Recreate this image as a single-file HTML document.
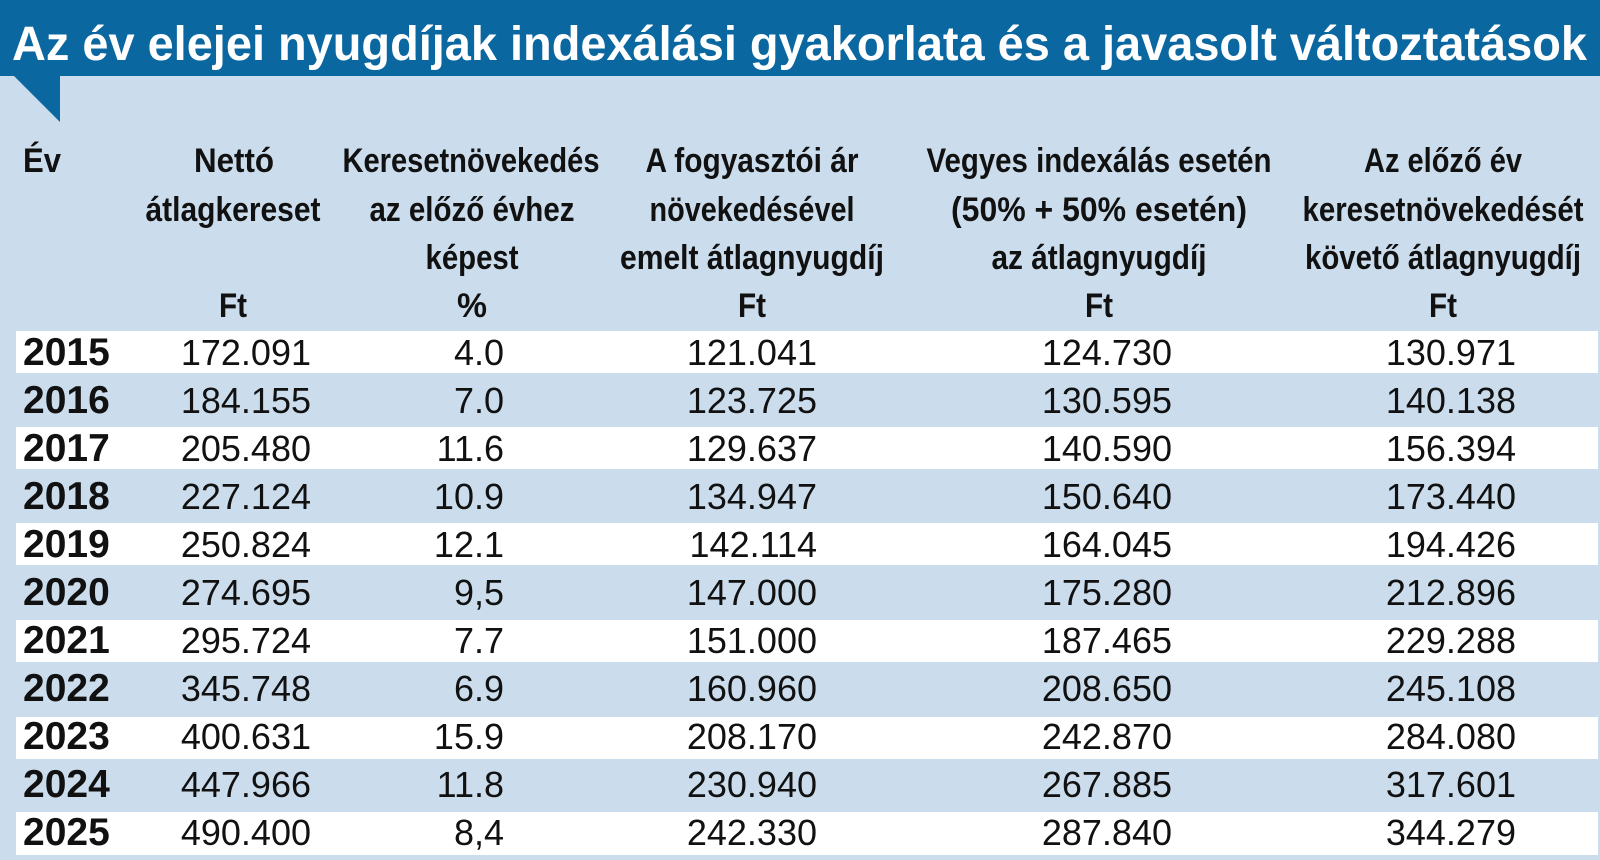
<!DOCTYPE html>
<html><head><meta charset="utf-8"><style>
html,body{margin:0;padding:0;background:#cbdcec;}
svg{display:block;}
</style></head><body>
<svg width="1600" height="860" xmlns="http://www.w3.org/2000/svg" font-family="Liberation Sans, sans-serif">
<rect width="1600" height="860" fill="#cbdcec"/>
<rect x="0" y="0" width="1600" height="76" fill="#0b67a0"/>
<polygon points="14,76 60,76 60,122" fill="#0b67a0"/>
<text x="12" y="60" font-size="48" font-weight="bold" fill="#fff" textLength="1575" lengthAdjust="spacingAndGlyphs">Az év elejei nyugdíjak indexálási gyakorlata és a javasolt változtatások</text>
<g fill="#fff">
<rect x="16" y="331" width="1582" height="42"/>
<rect x="16" y="427" width="1582" height="42"/>
<rect x="16" y="523" width="1582" height="42"/>
<rect x="16" y="620" width="1582" height="42"/>
<rect x="16" y="717" width="1582" height="42"/>
<rect x="16" y="812" width="1582" height="43"/>
</g>
<g font-size="34" font-weight="bold" fill="#111" text-anchor="middle" lengthAdjust="spacingAndGlyphs">
<text x="23" y="172" text-anchor="start" textLength="38" lengthAdjust="spacingAndGlyphs">Év</text>
<text x="234" y="172" textLength="80" lengthAdjust="spacingAndGlyphs">Nettó</text>
<text x="233" y="221" textLength="175" lengthAdjust="spacingAndGlyphs">átlagkereset</text>
<text x="233" y="317" textLength="28" lengthAdjust="spacingAndGlyphs">Ft</text>
<text x="471" y="172" textLength="257" lengthAdjust="spacingAndGlyphs">Keresetnövekedés</text>
<text x="472" y="221" textLength="205" lengthAdjust="spacingAndGlyphs">az előző évhez</text>
<text x="472" y="269" textLength="93" lengthAdjust="spacingAndGlyphs">képest</text>
<text x="472" y="317" textLength="30" lengthAdjust="spacingAndGlyphs">%</text>
<text x="752" y="172" textLength="213" lengthAdjust="spacingAndGlyphs">A fogyasztói ár</text>
<text x="752" y="221" textLength="205" lengthAdjust="spacingAndGlyphs">növekedésével</text>
<text x="752" y="269" textLength="264" lengthAdjust="spacingAndGlyphs">emelt átlagnyugdíj</text>
<text x="752" y="317" textLength="28" lengthAdjust="spacingAndGlyphs">Ft</text>
<text x="1099" y="172" textLength="345" lengthAdjust="spacingAndGlyphs">Vegyes indexálás esetén</text>
<text x="1099" y="221" textLength="296" lengthAdjust="spacingAndGlyphs">(50% + 50% esetén)</text>
<text x="1099" y="269" textLength="215" lengthAdjust="spacingAndGlyphs">az átlagnyugdíj</text>
<text x="1099" y="317" textLength="28" lengthAdjust="spacingAndGlyphs">Ft</text>
<text x="1443" y="172" textLength="158" lengthAdjust="spacingAndGlyphs">Az előző év</text>
<text x="1443" y="221" textLength="281" lengthAdjust="spacingAndGlyphs">keresetnövekedését</text>
<text x="1443" y="269" textLength="276" lengthAdjust="spacingAndGlyphs">követő átlagnyugdíj</text>
<text x="1443" y="317" textLength="28" lengthAdjust="spacingAndGlyphs">Ft</text>
</g>
<g font-size="36" fill="#111">
<g font-weight="bold" font-size="39">
<text x="23" y="365">2015</text><text x="23" y="413">2016</text><text x="23" y="461">2017</text><text x="23" y="509">2018</text><text x="23" y="557">2019</text><text x="23" y="605">2020</text><text x="23" y="653">2021</text><text x="23" y="701">2022</text><text x="23" y="749">2023</text><text x="23" y="797">2024</text><text x="23" y="845">2025</text>
</g>
<g text-anchor="end">
<text x="311" y="365">172.091</text><text x="311" y="413">184.155</text><text x="311" y="461">205.480</text><text x="311" y="509">227.124</text><text x="311" y="557">250.824</text><text x="311" y="605">274.695</text><text x="311" y="653">295.724</text><text x="311" y="701">345.748</text><text x="311" y="749">400.631</text><text x="311" y="797">447.966</text><text x="311" y="845">490.400</text>
<text x="504" y="365">4.0</text><text x="504" y="413">7.0</text><text x="504" y="461">11.6</text><text x="504" y="509">10.9</text><text x="504" y="557">12.1</text><text x="504" y="605">9,5</text><text x="504" y="653">7.7</text><text x="504" y="701">6.9</text><text x="504" y="749">15.9</text><text x="504" y="797">11.8</text><text x="504" y="845">8,4</text>
<text x="817" y="365">121.041</text><text x="817" y="413">123.725</text><text x="817" y="461">129.637</text><text x="817" y="509">134.947</text><text x="817" y="557">142.114</text><text x="817" y="605">147.000</text><text x="817" y="653">151.000</text><text x="817" y="701">160.960</text><text x="817" y="749">208.170</text><text x="817" y="797">230.940</text><text x="817" y="845">242.330</text>
<text x="1172" y="365">124.730</text><text x="1172" y="413">130.595</text><text x="1172" y="461">140.590</text><text x="1172" y="509">150.640</text><text x="1172" y="557">164.045</text><text x="1172" y="605">175.280</text><text x="1172" y="653">187.465</text><text x="1172" y="701">208.650</text><text x="1172" y="749">242.870</text><text x="1172" y="797">267.885</text><text x="1172" y="845">287.840</text>
<text x="1516" y="365">130.971</text><text x="1516" y="413">140.138</text><text x="1516" y="461">156.394</text><text x="1516" y="509">173.440</text><text x="1516" y="557">194.426</text><text x="1516" y="605">212.896</text><text x="1516" y="653">229.288</text><text x="1516" y="701">245.108</text><text x="1516" y="749">284.080</text><text x="1516" y="797">317.601</text><text x="1516" y="845">344.279</text>
</g>
</g>
</svg>
</body></html>
